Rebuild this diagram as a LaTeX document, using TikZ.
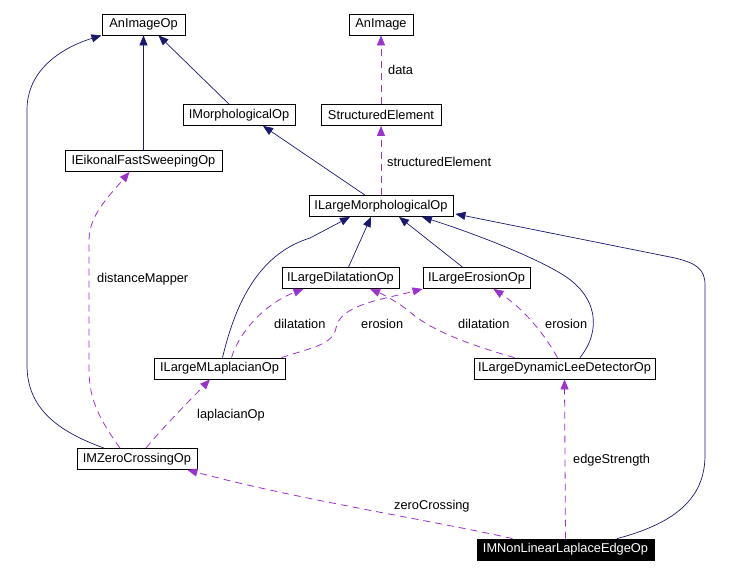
\documentclass[tikz,border=0pt]{standalone}
\usepackage{fontspec}
\setmainfont{Liberation Sans}
\usetikzlibrary{arrows.meta}
\definecolor{inh}{HTML}{191970}
\definecolor{use}{HTML}{9A32CD}
\tikzset{
  cls/.style={draw=black, line width=0.8pt, fill=white, inner sep=0pt, minimum height=21pt, font=\fontsize{12.8}{14}\selectfont},
  clshl/.style={cls, fill=black, text=white},
  inhedge/.style={draw=inh, line width=0.7pt, -{Triangle[length=10pt,width=8pt]}},
  useedge/.style={draw=use, line width=0.8pt, dash pattern=on 7pt off 5pt, -{Triangle[length=10pt,width=8pt]}},
  lbl/.style={anchor=west, inner sep=0pt, font=\fontsize{12.8}{14}\selectfont}
}
\begin{document}
\begin{tikzpicture}[x=1pt,y=-1pt]
\useasboundingbox (0,0) rectangle (732,574);
% nodes
\node[cls, minimum width=83pt] (aio) at (143.5,24.5) {AnImageOp};
\node[cls, minimum width=64pt] (ai) at (381,24.5) {AnImage};
\node[cls, minimum width=112pt] (imorph) at (239,115) {IMorphologicalOp};
\node[cls, minimum width=120pt] (se) at (381,115) {StructuredElement};
\node[cls, minimum width=157pt] (eik) at (143.5,161) {IEikonalFastSweepingOp};
\node[cls, minimum width=144pt] (ilm) at (381,206) {ILargeMorphologicalOp};
\node[cls, minimum width=117pt] (ildil) at (340.5,278) {ILargeDilatationOp};
\node[cls, minimum width=107pt] (ilero) at (476.5,278) {ILargeErosionOp};
\node[cls, minimum width=131pt] (ilml) at (219.5,368.5) {ILargeMLaplacianOp};
\node[cls, minimum width=181pt] (ildyn) at (564.5,368.5) {ILargeDynamicLeeDetectorOp};
\node[cls, minimum width=120pt] (imz) at (137,459) {IMZeroCrossingOp};
\node[clshl, minimum width=177pt] (inl) at (565.5,549.5) {IMNonLinearLaplaceEdgeOp};
% inheritance
\draw[inhedge] (eik.north) -- (aio.south);
\draw[inhedge] ([xshift=-10pt]imorph.north) -- ([xshift=15pt]aio.south);
\draw[inhedge] ([xshift=-33pt]imz.north) .. controls (60,432) and (27,410) .. (27,365) -- (27,110) .. controls (27,60) and (80,42) .. ([xshift=-42pt]aio.south);
\draw[inhedge] ([xshift=-16pt]ilm.north) -- ([xshift=24pt]imorph.south);
\draw[inhedge] ([xshift=8pt]ildil.north) -- ([xshift=-10pt]ilm.south);
\draw[inhedge] ([xshift=-14pt]ilero.north) -- ([xshift=18pt]ilm.south);
\draw[inhedge] ([xshift=3pt]ilml.north) .. controls (234,310) and (255,255) .. (310,238) -- ([xshift=-31pt]ilm.south);
\draw[inhedge] ([xshift=15.5pt]ildyn.north) .. controls (602,330) and (598,295) .. (560,273) .. controls (530,255) and (470,232) .. ([xshift=41pt]ilm.south);
\draw[inhedge] ([xshift=51.5pt]inl.north) .. controls (680,522) and (705,495) .. (705,455) -- (705,285) .. controls (705,268) and (695,263) .. (675,258) -- ([xshift=2pt,yshift=3pt]ilm.south east);
% usage
\draw[useedge] (se.north) -- (ai.south);
\node[lbl] (l1) at (388,70) {data};
\draw[useedge] (ilm.north) -- (se.south);
\node[lbl] (l2) at (387,162) {structuredElement};
\draw[useedge] ([xshift=-17pt]imz.north) .. controls (100,420) and (89,400) .. (89,370) -- (89,240) .. controls (89,215) and (110,195) .. ([xshift=-14pt]eik.south);
\node[lbl] (l3) at (97,279) {distanceMapper};
\draw[useedge] ([xshift=9pt]imz.north) .. controls (165,425) and (195,395) .. ([xshift=-9.5pt]ilml.south);
\node[lbl] (l4) at (197,415) {laplacianOp};
\draw[useedge] ([xshift=12pt]ilml.north) .. controls (238,335) and (262,305) .. ([xshift=-37pt]ildil.south);
\node[lbl] (l5) at (274,324) {dilatation};
\draw[useedge] ([xshift=62pt]ilml.north) .. controls (310,348) and (333,345) .. (336,328) .. controls (340,305) and (380,300) .. (ilero.south west);
\node[lbl] (l6) at (361,324) {erosion};
\draw[useedge] ([xshift=-50pt]ildyn.north) .. controls (470,345) and (430,330) .. (410,312) .. controls (395,300) and (380,293) .. ([xshift=29.5pt]ildil.south);
\node[lbl] (l7) at (458,324) {dilatation};
\draw[useedge] ([xshift=-7pt]ildyn.north) .. controls (545,335) and (525,310) .. ([xshift=17pt]ilero.south);
\node[lbl] (l8) at (545,324) {erosion};
\draw[useedge] (inl.north) -- (ildyn.south);
\node[lbl] (l9) at (573,460) {edgeStrength};
\draw[useedge] ([xshift=-53pt]inl.north) .. controls (430,520) and (300,500) .. ([xshift=-10pt]imz.south east);
\node[lbl] (l10) at (394,506) {zeroCrossing};
\end{tikzpicture}
\end{document}
